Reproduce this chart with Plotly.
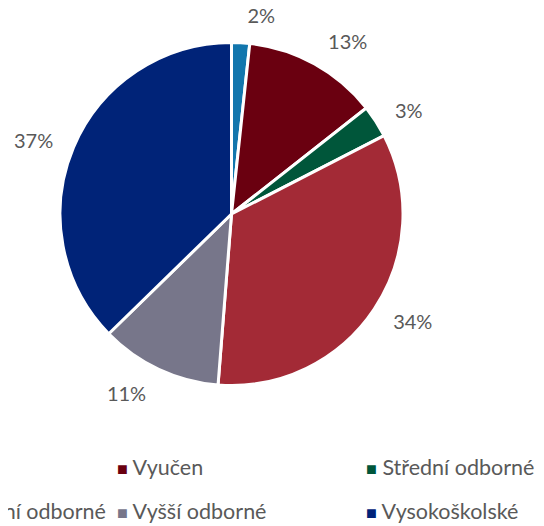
import plotly.graph_objects as go

labels = ['Základní', 'Vyučen', 'Střední odborné', 'Úplné střední odborné',
          'Vyšší odborné', 'Vysokoškolské']
values = [1.7, 12.7, 3.05, 33.8, 11.45, 37.3]
colors = ['#1276ad', '#6a0010', '#00563a', '#a32a36', '#77768a', '#002378']

OFF = 8                     # page body margin; positions below are in window px
W, H = 544, 526
cx, cy, r = 231.5 - OFF, 214 - OFF, 171.5
r_txt = 187                 # invisible ring that carries the % labels


def dom(rad):
    return dict(x=[(cx - rad) / W, (cx + rad) / W],
                y=[1 - (cy + rad) / H, 1 - (cy - rad) / H])


fig = go.Figure()

# slices
fig.add_trace(go.Pie(
    labels=labels, values=values, sort=False, direction='clockwise',
    marker=dict(colors=colors, line=dict(color='white', width=3)),
    textinfo='none', domain=dom(r), showlegend=False,
))

# percent labels, pushed a bit further out like Excel does
fig.add_trace(go.Pie(
    labels=labels, values=values, sort=False, direction='clockwise',
    marker=dict(colors=['rgba(0,0,0,0)'] * len(values), line=dict(width=0)),
    texttemplate='%{percent:.0%}', textposition='outside',
    outsidetextfont=dict(family='Lato', size=20, color='#595959'),
    domain=dom(r_txt), showlegend=False, hoverinfo='skip',
))

# legend laid out as Excel's 3-column grid (first column runs off the left edge)
col_x = [-132, 107, 356]
row_y = [466.5 - OFF, 510.5 - OFF]
for i, (lab, c) in enumerate(zip(labels, colors)):
    fig.add_annotation(
        x=col_x[i % 3] / W, y=1 - row_y[i // 3] / H, xref='paper', yref='paper',
        xanchor='left', yanchor='middle', showarrow=False,
        text=f'<span style="color:{c};font-size:18px">■</span> {lab}',
        font=dict(family='Lato', size=21.5, color='#595959'),
    )

fig.update_layout(
    width=W, height=H, margin=dict(l=0, r=0, t=0, b=0, autoexpand=False),
    paper_bgcolor='white', plot_bgcolor='white',
    font=dict(family='Lato', color='#595959'),
)

fig.write_html("out.html")
